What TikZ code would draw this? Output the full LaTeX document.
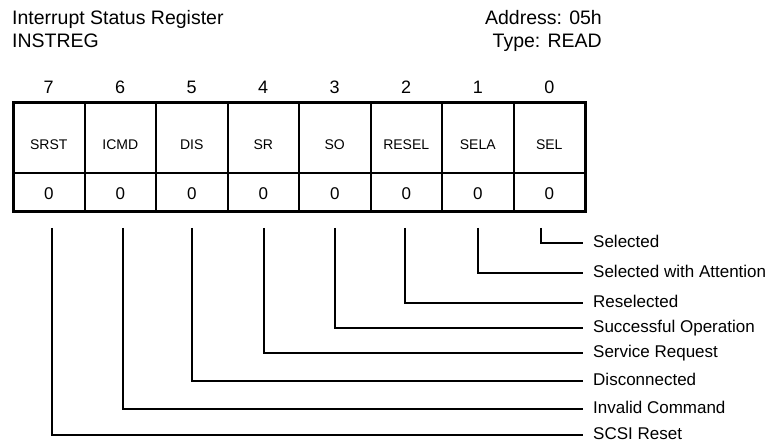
\documentclass[tikz,border=0pt]{standalone}
\usepackage{fontspec}
\setmainfont{Liberation Sans}
\begin{document}
\begin{tikzpicture}[x=1pt,y=-1pt,
	title/.style={inner sep=0pt,font=\fontsize{19.5}{22}\selectfont},
	bitno/.style={inner sep=0pt,anchor=base,font=\fontsize{18}{21}\selectfont},
	field/.style={inner sep=0pt,anchor=base,font=\fontsize{14}{16}\selectfont},
	desc/.style={anchor=west,inner xsep=10pt,inner ysep=0pt,text height=12.2pt,text depth=3pt,font=\fontsize{17}{20}\selectfont},
	wire/.style={line width=2pt}]
	\useasboundingbox (0,0) rectangle (771,443);
	\node[title,anchor=base west] (name) at (12,25) {Interrupt Status Register};
	\node[title,anchor=base west] (short) at (12,48) {INSTREG};
	\node[title,anchor=base east] (addr) at (602,25) {Address: 05h};
	\node[title,anchor=base east] (type) at (602,48) {Type: READ};
	\draw[line width=3pt] (13,103) rectangle (585,212);
	\draw[line width=2pt] (13,173) -- (585,173);
	\foreach \k in {1,...,7}
	\draw[line width=2pt] (13+\k*71.5,103) -- (13+\k*71.5,212);
	\foreach \f [count=\j from 0] in {SRST,ICMD,DIS,SR,SO,RESEL,SELA,SEL}
	{
		\pgfmathtruncatemacro{\b}{7-\j}
		\node[bitno] (b\b) at (48.75+\j*71.5,94) {\b};
		\node[field] (f\b) at (48.75+\j*71.5,150) {\f};
		\node[bitno,font=\fontsize{17}{20}\selectfont] (v\b) at (48.75+\j*71.5,199.5) {0};
	}
	\foreach \b/\x/\y/\txt in {0/541/243/Selected,1/478/273/Selected with Attention,2/405/303/Reselected,3/335/328/Successful Operation,4/264/353/Service Request,5/192/381/Disconnected,6/123/409/Invalid Command,7/52/435/SCSI Reset}
	{
		\coordinate (t\b) at (\x,228);
		\node[desc] (d\b) at (583,\y) {\txt};
		\draw[wire] (t\b) |- (d\b.west);
	}
\end{tikzpicture}
\end{document}
